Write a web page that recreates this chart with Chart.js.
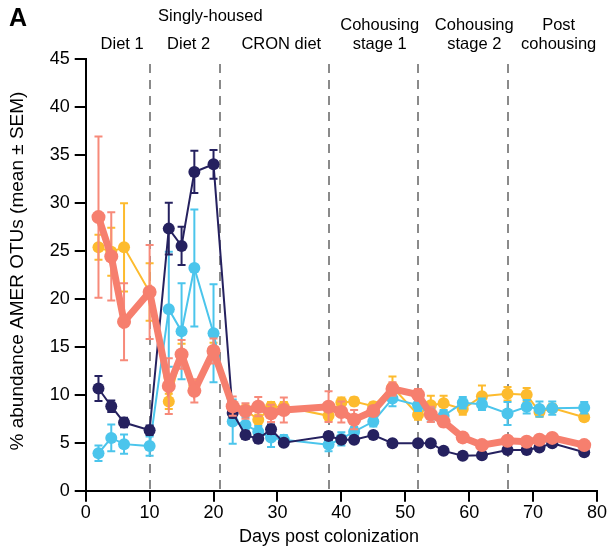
<!DOCTYPE html>
<html>
<head>
<meta charset="utf-8">
<script src="https://cdn.jsdelivr.net/npm/chart.js@4/dist/chart.umd.min.js"></script>
<style>
  html, body { margin: 0; padding: 0; background: #fff; }
  #c { display: block; }
</style>
</head>
<body>
<canvas id="c" width="608" height="550"></canvas>
<script>
// ---------- DATA ----------
const days = [2,4,6,10,13,15,17,20,23,25,27,29,31,38,40,42,45,48,52,54,56,59,62,66,69,71,73,78];

const salmonMean = [28.5,24.4,17.6,20.7,10.9,14.2,10.4,14.55,8.8,8.3,8.75,8.05,8.4,8.75,8.2,7.4,8.3,10.6,10.0,7.95,7.2,5.55,4.75,5.2,5.1,5.3,5.5,4.75];
const salmonSem  = [8.4,4.6,4.0,4.9,2.9,1.5,1.2,1.3,1.0,0.8,1.0,0.9,1.3,1.6,1.1,1.0,0.5,0.7,0.6,0.8,0.5,0.3,0.3,0.3,0.3,0.3,0.3,0.3];

const yellowMean = [25.35,24.9,25.35,20.7,9.3,14.2,10.9,14.6,8.8,8.4,7.4,8.75,8.75,7.8,9.2,9.3,8.8,10.8,7.9,8.9,9.1,8.5,9.85,10.1,10.0,8.2,8.6,7.65];
const yellowSem  = [1.3,2.5,4.6,3.0,0.8,1.1,0.5,0.8,0.5,0.5,0.5,0.5,0.5,0.5,0.5,0.4,0.4,1.1,0.5,1.0,0.8,0.6,1.1,0.7,0.7,0.5,0.4,0.4];

const blueMean = [3.9,5.5,4.85,4.65,18.9,16.6,23.2,16.4,7.2,6.85,6.15,5.55,5.3,4.8,5.4,6.15,7.2,9.6,8.9,7.9,7.8,9.15,9.0,8.05,8.75,8.5,8.6,8.65];
const blueSem  = [0.8,1.4,1.0,1.0,6.0,5.0,6.1,5.1,2.3,0.8,0.6,1.0,0.5,0.7,0.7,0.5,0.5,0.8,0.6,0.7,0.6,0.6,0.6,1.2,0.7,0.8,0.7,0.6];

const navyMean = [10.65,8.8,7.1,6.3,27.3,25.5,33.2,34.0,8.1,5.8,5.4,6.4,5.0,5.7,5.3,5.3,5.8,4.95,4.95,4.95,4.15,3.65,3.7,4.25,4.25,4.5,4.95,4.0];
const navySem  = [1.3,0.6,0.5,0.5,2.7,2.0,2.2,1.5,0.5,0.4,0.4,0.5,0.3,0.4,0.3,0.3,0.3,0.3,0.3,0.3,0.3,0.3,0.3,0.3,0.3,0.3,0.3,0.3];

const phaseBoundaries = [10, 21, 38, 52, 66];
const yTicks = [0,5,10,15,20,25,30,35,40,45];
const xTicks = [0,10,20,30,40,50,60,70,80];

const phaseLabels = [
  { lines: ["Diet 1"], day: 5.7 },
  { lines: ["Diet 2"], day: 16.1 },
  { lines: ["CRON diet"], day: 30.6 },
  { lines: ["Cohousing", "stage 1"], day: 46.0 },
  { lines: ["Cohousing", "stage 2"], day: 60.8 },
  { lines: ["Post", "cohousing"], day: 74.0 }
];
const topLabel = { text: "Singly-housed", day: 19.5 };

const FONT = "'Liberation Sans', Arial, Helvetica, sans-serif";
const COLORS = { salmon: '#F67F6E', yellow: '#FDBB2E', blue: '#4BC5EC', navy: '#25215F' };

function pts(means) { return days.map((d, i) => ({ x: d, y: means[i] })); }

// ---------- PLUGINS ----------
const errorBars = {
  id: 'errorBars',
  beforeDatasetDraw(chart, args) {
    const ds = chart.data.datasets[args.index];
    if (!ds.sem) return;
    const ctx = chart.ctx, y = chart.scales.y;
    ctx.save();
    ctx.strokeStyle = ds.errColor || ds.borderColor;
    ctx.lineWidth = 2;
    args.meta.data.forEach((p, i) => {
      const v = ds.data[i].y, s = ds.sem[i];
      const yt = y.getPixelForValue(v + s), yb = y.getPixelForValue(v - s);
      const cw = 4;
      ctx.beginPath();
      ctx.moveTo(p.x, yt); ctx.lineTo(p.x, yb);
      ctx.moveTo(p.x - cw, yt); ctx.lineTo(p.x + cw, yt);
      ctx.moveTo(p.x - cw, yb); ctx.lineTo(p.x + cw, yb);
      ctx.stroke();
    });
    ctx.restore();
  }
};

const decorations = {
  id: 'decorations',
  beforeDatasetsDraw(chart) {
    const ctx = chart.ctx, xs = chart.scales.x, ca = chart.chartArea;
    ctx.save();
    ctx.strokeStyle = '#8a8a8a';
    ctx.lineWidth = 2;
    ctx.setLineDash([9, 7]);
    phaseBoundaries.forEach(d => {
      const px = Math.round(xs.getPixelForValue(d));
      ctx.beginPath();
      ctx.moveTo(px, 64);
      ctx.lineTo(px, ca.bottom + 4);
      ctx.stroke();
    });
    ctx.restore();
  },
  afterDraw(chart) {
    const ctx = chart.ctx, xs = chart.scales.x;
    ctx.save();
    ctx.fillStyle = '#000';
    ctx.textAlign = 'center';
    ctx.textBaseline = 'middle';
    ctx.font = "16.5px " + FONT;
    ctx.fillText(topLabel.text, xs.getPixelForValue(topLabel.day), 16);
    phaseLabels.forEach(l => {
      const px = xs.getPixelForValue(l.day);
      if (l.lines.length === 1) {
        ctx.fillText(l.lines[0], px, 44);
      } else {
        ctx.fillText(l.lines[0], px, 25);
        ctx.fillText(l.lines[1], px, 44);
      }
    });
    ctx.textAlign = 'left';
    ctx.font = "bold 25px " + FONT;
    ctx.fillText("A", 9, 19);
    ctx.font = "18px " + FONT;
    ctx.textAlign = 'center';
    ctx.fillText("Days post colonization", 329, 537);
    ctx.font = "19px " + FONT;
    ctx.translate(18, 271);
    ctx.rotate(-Math.PI / 2);
    ctx.fillText("% abundance AMER OTUs (mean \u00B1 SEM)", 0, 0);
    ctx.restore();
  }
};

// ---------- CHART ----------
function series(label, means, sem, color, opts) {
  return Object.assign({
    label, data: pts(means), sem,
    borderColor: color, backgroundColor: color,
    pointBackgroundColor: color, pointBorderColor: color,
    pointBorderWidth: 0, borderWidth: 2, pointRadius: 6,
    tension: 0, clip: false
  }, opts || {});
}

new Chart(document.getElementById('c'), {
  type: 'line',
  data: {
    datasets: [
      series('Salmon group', salmonMean, salmonSem, COLORS.salmon, { borderWidth: 7, pointRadius: 7, order: 1, errColor: '#F78A7A' }),
      series('Navy group', navyMean, navySem, COLORS.navy, { order: 2 }),
      series('Blue group', blueMean, blueSem, COLORS.blue, { order: 3 }),
      series('Yellow group', yellowMean, yellowSem, COLORS.yellow, { order: 4 })
    ]
  },
  options: {
    responsive: false,
    animation: false,
    devicePixelRatio: 1,
    layout: { padding: { top: 58.7, right: 10.3, left: 0, bottom: 0 } },
    plugins: { legend: { display: false }, tooltip: { enabled: false }, title: { display: false } },
    scales: {
      x: {
        type: 'linear', min: 0, max: 80,
        afterBuildTicks(s) { s.ticks = xTicks.map(v => ({ value: v })); },
        afterFit(s) { s.height = 550 - 490.7; },
        ticks: { color: '#000', font: { size: 18, family: FONT }, padding: 1, maxRotation: 0, autoSkip: false },
        grid: { drawOnChartArea: false, drawTicks: true, tickLength: 11, color: '#000', lineWidth: 2 },
        border: { display: true, color: '#000', width: 2 }
      },
      y: {
        min: 0, max: 45,
        afterBuildTicks(s) { s.ticks = yTicks.map(v => ({ value: v })); },
        afterFit(s) { s.width = 85.7; },
        ticks: { color: '#000', font: { size: 18, family: FONT }, padding: 5, autoSkip: false },
        grid: { drawOnChartArea: false, drawTicks: true, tickLength: 11, color: '#000', lineWidth: 2 },
        border: { display: true, color: '#000', width: 2 }
      }
    }
  },
  plugins: [errorBars, decorations]
});
</script>
</body>
</html>
